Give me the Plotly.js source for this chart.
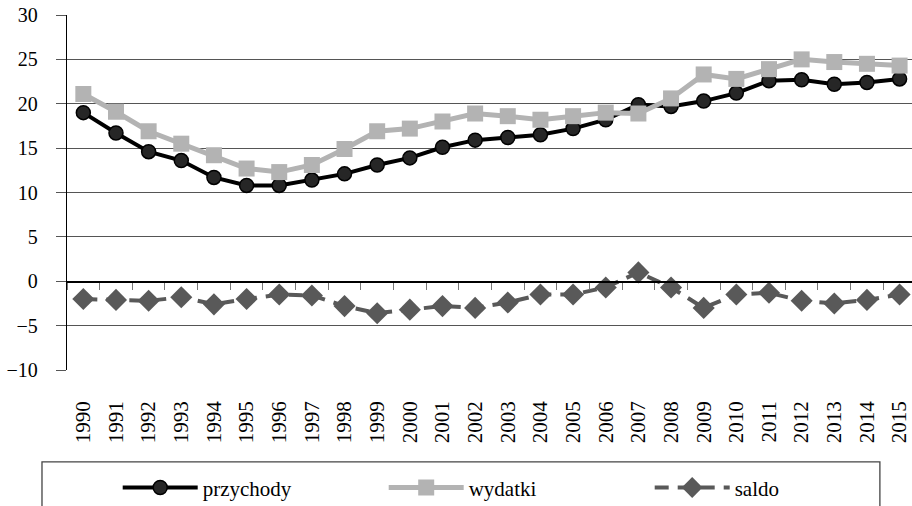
<!DOCTYPE html>
<html>
<head>
<meta charset="utf-8">
<script src="https://cdn.plot.ly/plotly-3.0.1.min.js"></script>
<style>html,body{margin:0;padding:0;background:#fff;}#chart{width:912px;height:506px;}</style>
</head>
<body>
<div id="chart"></div>
<script>
var years = ['1990','1991','1992','1993','1994','1995','1996','1997','1998','1999','2000','2001','2002','2003','2004','2005','2006','2007','2008','2009','2010','2011','2012','2013','2014','2015'];
var przychody = [19.0, 16.7, 14.6, 13.6, 11.7, 10.8, 10.8, 11.4, 12.1, 13.1, 13.9, 15.1, 15.9, 16.2, 16.5, 17.2, 18.2, 19.9, 19.7, 20.3, 21.2, 22.6, 22.7, 22.2, 22.4, 22.8];
var wydatki = [21.1, 19.1, 16.9, 15.5, 14.2, 12.7, 12.3, 13.1, 14.9, 16.9, 17.2, 18.0, 18.9, 18.6, 18.2, 18.6, 19.0, 18.9, 20.6, 23.3, 22.8, 23.9, 25.0, 24.7, 24.5, 24.3];
var saldo = [-2.0, -2.1, -2.2, -1.8, -2.6, -2.0, -1.5, -1.6, -2.8, -3.6, -3.2, -2.8, -3.0, -2.4, -1.5, -1.5, -0.7, 1.0, -0.7, -3.0, -1.5, -1.3, -2.2, -2.5, -2.1, -1.5];
var seriesNames = ['przychody', 'wydatki', 'saldo'];
var yTicks = [-10, -5, 0, 5, 10, 15, 20, 25, 30];
var yTickText = ['\u221210', '\u22125', '0', '5', '10', '15', '20', '25', '30'];

var serif = 'Times New Roman';
var traces = [
  {x: years, y: przychody, name: seriesNames[0], type: 'scatter', mode: 'lines+markers',
   line: {color: '#000000', width: 4},
   marker: {symbol: 'circle', size: 14, color: '#262626', line: {color: '#000000', width: 1.5}}},
  {x: years, y: wydatki, name: seriesNames[1], type: 'scatter', mode: 'lines+markers',
   line: {color: '#b3b3b3', width: 5},
   marker: {symbol: 'square', size: 16, color: '#b3b3b3'}},
  {x: years, y: saldo, name: seriesNames[2], type: 'scatter', mode: 'lines+markers',
   line: {color: '#595959', width: 4, dash: '14px,9px'},
   marker: {symbol: 'diamond', size: 17, color: '#595959'}},
  {x: years, y: years.map(function(){return null;}), xaxis: 'x2', type: 'scatter', mode: 'lines',
   showlegend: false, hoverinfo: 'skip'}
];

var layout = {
  width: 912, height: 506,
  margin: {l: 67, r: 0, t: 15, b: 136, autoexpand: false},
  paper_bgcolor: '#ffffff', plot_bgcolor: '#ffffff',
  font: {family: serif, size: 20, color: '#000000'},
  showlegend: true,
  xaxis: {
    type: 'category', range: [-0.5, 25.38], automargin: false,
    showgrid: false, zeroline: false, showline: false,
    ticks: '', tickangle: -90, ticklabelstandoff: 26,
    tickfont: {family: serif, size: 21, color: '#000'}
  },
  xaxis2: {
    type: 'category', overlaying: 'x', matches: 'x', anchor: 'free', position: 0.25,
    automargin: false,
    showgrid: false, zeroline: false, showline: true, linecolor: '#000', linewidth: 1.3,
    ticks: 'outside', tickson: 'boundaries', ticklen: 7, tickcolor: '#777', tickwidth: 1,
    showticklabels: false
  },
  yaxis: {
    range: [-10, 30], tickvals: yTicks, ticktext: yTickText, automargin: false,
    showgrid: true, gridcolor: '#555', gridwidth: 1,
    zeroline: false,
    showline: true, linecolor: '#000', linewidth: 1.3,
    ticks: 'outside', ticklen: 10, tickcolor: '#555', tickwidth: 1,
    ticklabelstandoff: 14,
    tickfont: {family: serif, size: 20, color: '#000'}
  },
  legend: {
    orientation: 'h', x: 0.06, xanchor: 'left', y: -0.332, yanchor: 'middle',
    bgcolor: 'rgba(0,0,0,0)', borderwidth: 0,
    font: {family: serif, size: 21, color: '#000'},
    itemwidth: 75, entrywidth: 176, entrywidthmode: 'pixels',
    traceorder: 'normal'
  },
  shapes: [
    {type: 'rect', xref: 'paper', yref: 'paper', x0: -0.0296, x1: 0.962, y0: -0.259, y1: -0.43,
     line: {color: '#444', width: 1.3}, fillcolor: 'rgba(0,0,0,0)', layer: 'below'}
  ]
};

Plotly.newPlot('chart', traces, layout, {displayModeBar: false, staticPlot: true});
</script>
</body>
</html>
